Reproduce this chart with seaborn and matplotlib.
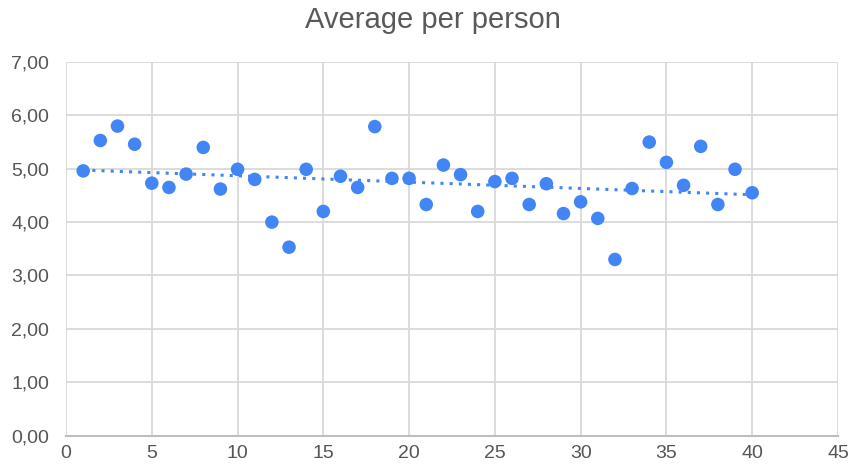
import seaborn as sns
import matplotlib.pyplot as plt
import matplotlib.ticker as mticker
import pandas as pd
import numpy as np

person = list(range(1, 41))
average = [4.96, 5.53, 5.80, 5.46, 4.73, 4.65, 4.90, 5.40, 4.62, 4.99,
           4.80, 4.00, 3.53, 4.99, 4.20, 4.86, 4.65, 5.79, 4.82, 4.82,
           4.33, 5.07, 4.89, 4.20, 4.76, 4.82, 4.33, 4.72, 4.16, 4.38,
           4.07, 3.30, 4.63, 5.50, 5.12, 4.69, 5.42, 4.33, 4.99, 4.55]

df = pd.DataFrame({"person": person, "average": average})

# linear trendline from the data
slope, intercept = np.polyfit(df["person"], df["average"], 1)
trend = pd.DataFrame({"person": [df["person"].min(), df["person"].max()]})
trend["average"] = intercept + slope * trend["person"]

sns.set_style("white")
plt.rcParams["font.family"] = ["Liberation Sans", "DejaVu Sans"]

fig = plt.figure(figsize=(8.52, 4.68), dpi=100)
ax = fig.add_axes([0.0775, 0.0694, 0.906, 0.798])

blue = "#4285F4"
sns.lineplot(data=trend, x="person", y="average", ax=ax, color=blue,
             linestyle=(0, (1, 2)), linewidth=2.2, zorder=2)
sns.scatterplot(data=df, x="person", y="average", ax=ax, color=blue,
                s=95, edgecolor="none", zorder=3)

ax.set_xlim(0, 45)
ax.set_ylim(0, 7)
ax.set_xticks(range(0, 46, 5))
ax.set_yticks(range(0, 8))
ax.yaxis.set_major_formatter(mticker.FuncFormatter(lambda v, p: f"{v:.2f}".replace(".", ",")))
ax.grid(True, color="#d9d9d9", linewidth=1.3)
ax.set_axisbelow(True)
for s in ["top", "right", "left"]:
    ax.spines[s].set_visible(False)
ax.spines["bottom"].set_color("#bdbdbd")
ax.spines["bottom"].set_linewidth(1.5)
ax.tick_params(axis="y", length=0, labelsize=14, labelcolor="#555555", pad=12)
ax.tick_params(axis="x", length=0, labelsize=14, labelcolor="#555555", pad=7)
ax.set_xlabel("")
ax.set_ylabel("")
fig.text(433 / 852, 1 - 20 / 468, "Average per person", fontsize=21,
         color="#595959", ha="center", va="center")

fig.savefig("out.png", dpi=100)
